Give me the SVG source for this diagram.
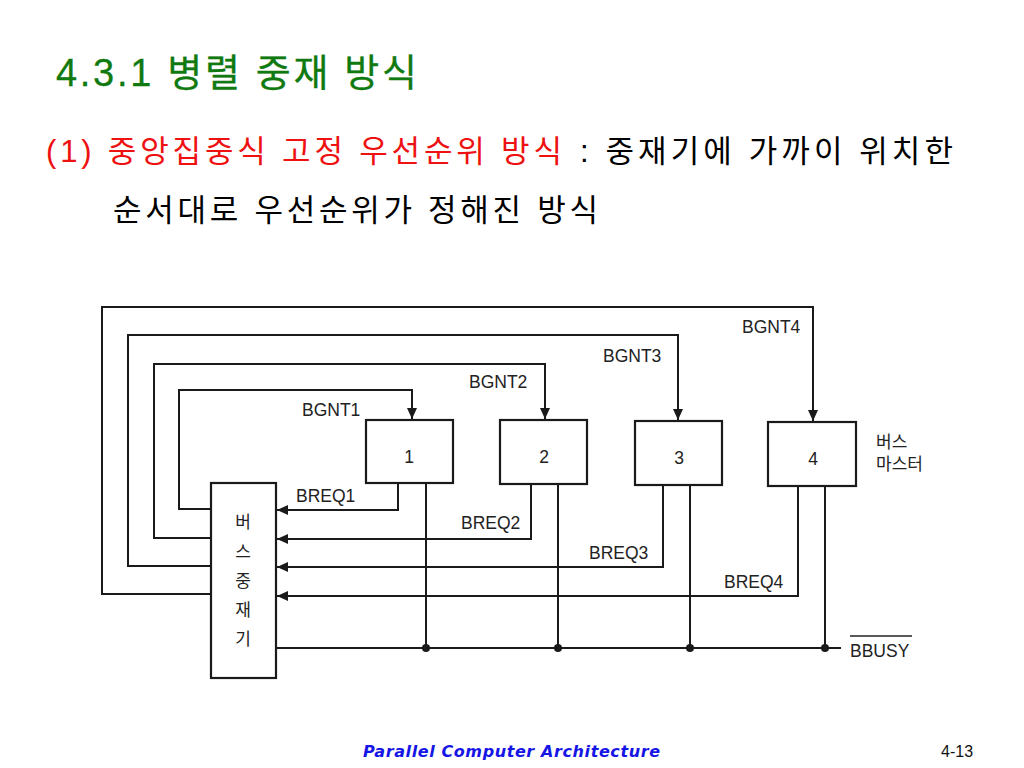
<svg xmlns="http://www.w3.org/2000/svg" width="1024" height="768" viewBox="0 0 1024 768">
<style>
.title{font-family:"Liberation Sans","Noto Sans CJK KR",sans-serif;font-size:38px;fill:#107a10;stroke:#107a10;stroke-width:0.3}
.sub{font-family:"Liberation Sans","Noto Sans CJK KR",sans-serif;font-size:31px}
.lbl{font-family:"Liberation Sans","Noto Sans CJK KR",sans-serif;font-size:17.5px;fill:#222}
.kr{font-family:"Noto Sans CJK KR",sans-serif;font-size:17px;fill:#222}
.box{fill:#fff;stroke:#1a1a1a;stroke-width:2.2}
.wire{fill:none;stroke:#1a1a1a;stroke-width:2}
.foot{font-family:"DejaVu Sans",sans-serif;font-style:italic;font-weight:bold;font-size:16px;fill:#1515e6}
</style>
<defs>
<marker id="ah" markerUnits="userSpaceOnUse" markerWidth="12" markerHeight="10" refX="11" refY="5" orient="auto">
<path d="M0,0 L11,5 L0,10 z" fill="#1a1a1a"/>
</marker>
</defs>
<rect width="1024" height="768" fill="#fff"/>

<text class="title" x="56" y="86" textLength="361">4.3.1 병렬 중재 방식</text>
<text class="sub" x="46" y="162" fill="#ee1111" textLength="516">(1) 중앙집중식 고정 우선순위 방식</text>
<text class="sub" x="580" y="162" fill="#000" textLength="373">: 중재기에 가까이 위치한</text>
<text class="sub" x="113" y="221" fill="#000" textLength="485">순서대로 우선순위가 정해진 방식</text>

<g id="connectors">
<path class="wire" d="M211,509 H179 V390 H412 V419" marker-end="url(#ah)"/>
<path class="wire" d="M211,538 H154 V364 H545 V419" marker-end="url(#ah)"/>
<path class="wire" d="M211,566 H128 V335 H678 V420" marker-end="url(#ah)"/>
<path class="wire" d="M211,594 H102 V307 H813 V421" marker-end="url(#ah)"/>
<path class="wire" d="M398,483 V510 H277" marker-end="url(#ah)"/>
<path class="wire" d="M531,484 V539 H277" marker-end="url(#ah)"/>
<path class="wire" d="M663,485 V567 H277" marker-end="url(#ah)"/>
<path class="wire" d="M798,486 V596 H277" marker-end="url(#ah)"/>
<path class="wire" d="M276,648 H841"/>
<path class="wire" d="M426,483 V648 M558,484 V648 M690,485 V648 M825,486 V648"/>
<g fill="#1a1a1a">
<circle cx="426" cy="648" r="4"/>
<circle cx="558" cy="648" r="4"/>
<circle cx="690" cy="648" r="4"/>
<circle cx="825" cy="648" r="4"/>
</g>
<text class="lbl" x="302" y="416">BGNT1</text>
<text class="lbl" x="469" y="388">BGNT2</text>
<text class="lbl" x="603" y="362">BGNT3</text>
<text class="lbl" x="742" y="333">BGNT4</text>
<text class="lbl" x="296" y="502">BREQ1</text>
<text class="lbl" x="461" y="529">BREQ2</text>
<text class="lbl" x="589" y="559">BREQ3</text>
<text class="lbl" x="724" y="588">BREQ4</text>
<text class="lbl" x="850" y="657">BBUSY</text>
<line x1="850" y1="636" x2="912" y2="636" stroke="#222" stroke-width="1.5"/>
</g>

<g id="arbiter">
<rect class="box" x="211" y="483" width="65" height="195"/>
<text class="kr" x="243" y="528" text-anchor="middle">버</text>
<text class="kr" x="243" y="558" text-anchor="middle">스</text>
<text class="kr" x="243" y="587" text-anchor="middle">중</text>
<text class="kr" x="243" y="616" text-anchor="middle">재</text>
<text class="kr" x="243" y="645" text-anchor="middle">기</text>
</g>
<g id="master1">
<rect class="box" x="366" y="420" width="87" height="63"/>
<text class="lbl" x="409" y="463" text-anchor="middle">1</text>
</g>
<g id="master2">
<rect class="box" x="500" y="420" width="87" height="64"/>
<text class="lbl" x="544" y="463" text-anchor="middle">2</text>
</g>
<g id="master3">
<rect class="box" x="635" y="421" width="87" height="64"/>
<text class="lbl" x="679" y="464" text-anchor="middle">3</text>
</g>
<g id="master4">
<rect class="box" x="768" y="422" width="88" height="64"/>
<text class="lbl" x="813" y="465" text-anchor="middle">4</text>
</g>
<g id="master-label">
<text class="kr" font-size="17.5"><tspan x="876" y="448">버스</tspan><tspan x="876" y="470">마스터</tspan></text>
</g>

<text class="foot" x="363" y="757" textLength="297">Parallel Computer Architecture</text>
<text x="941" y="757" font-family="Liberation Sans,sans-serif" font-size="16" fill="#111">4-13</text>
</svg>
